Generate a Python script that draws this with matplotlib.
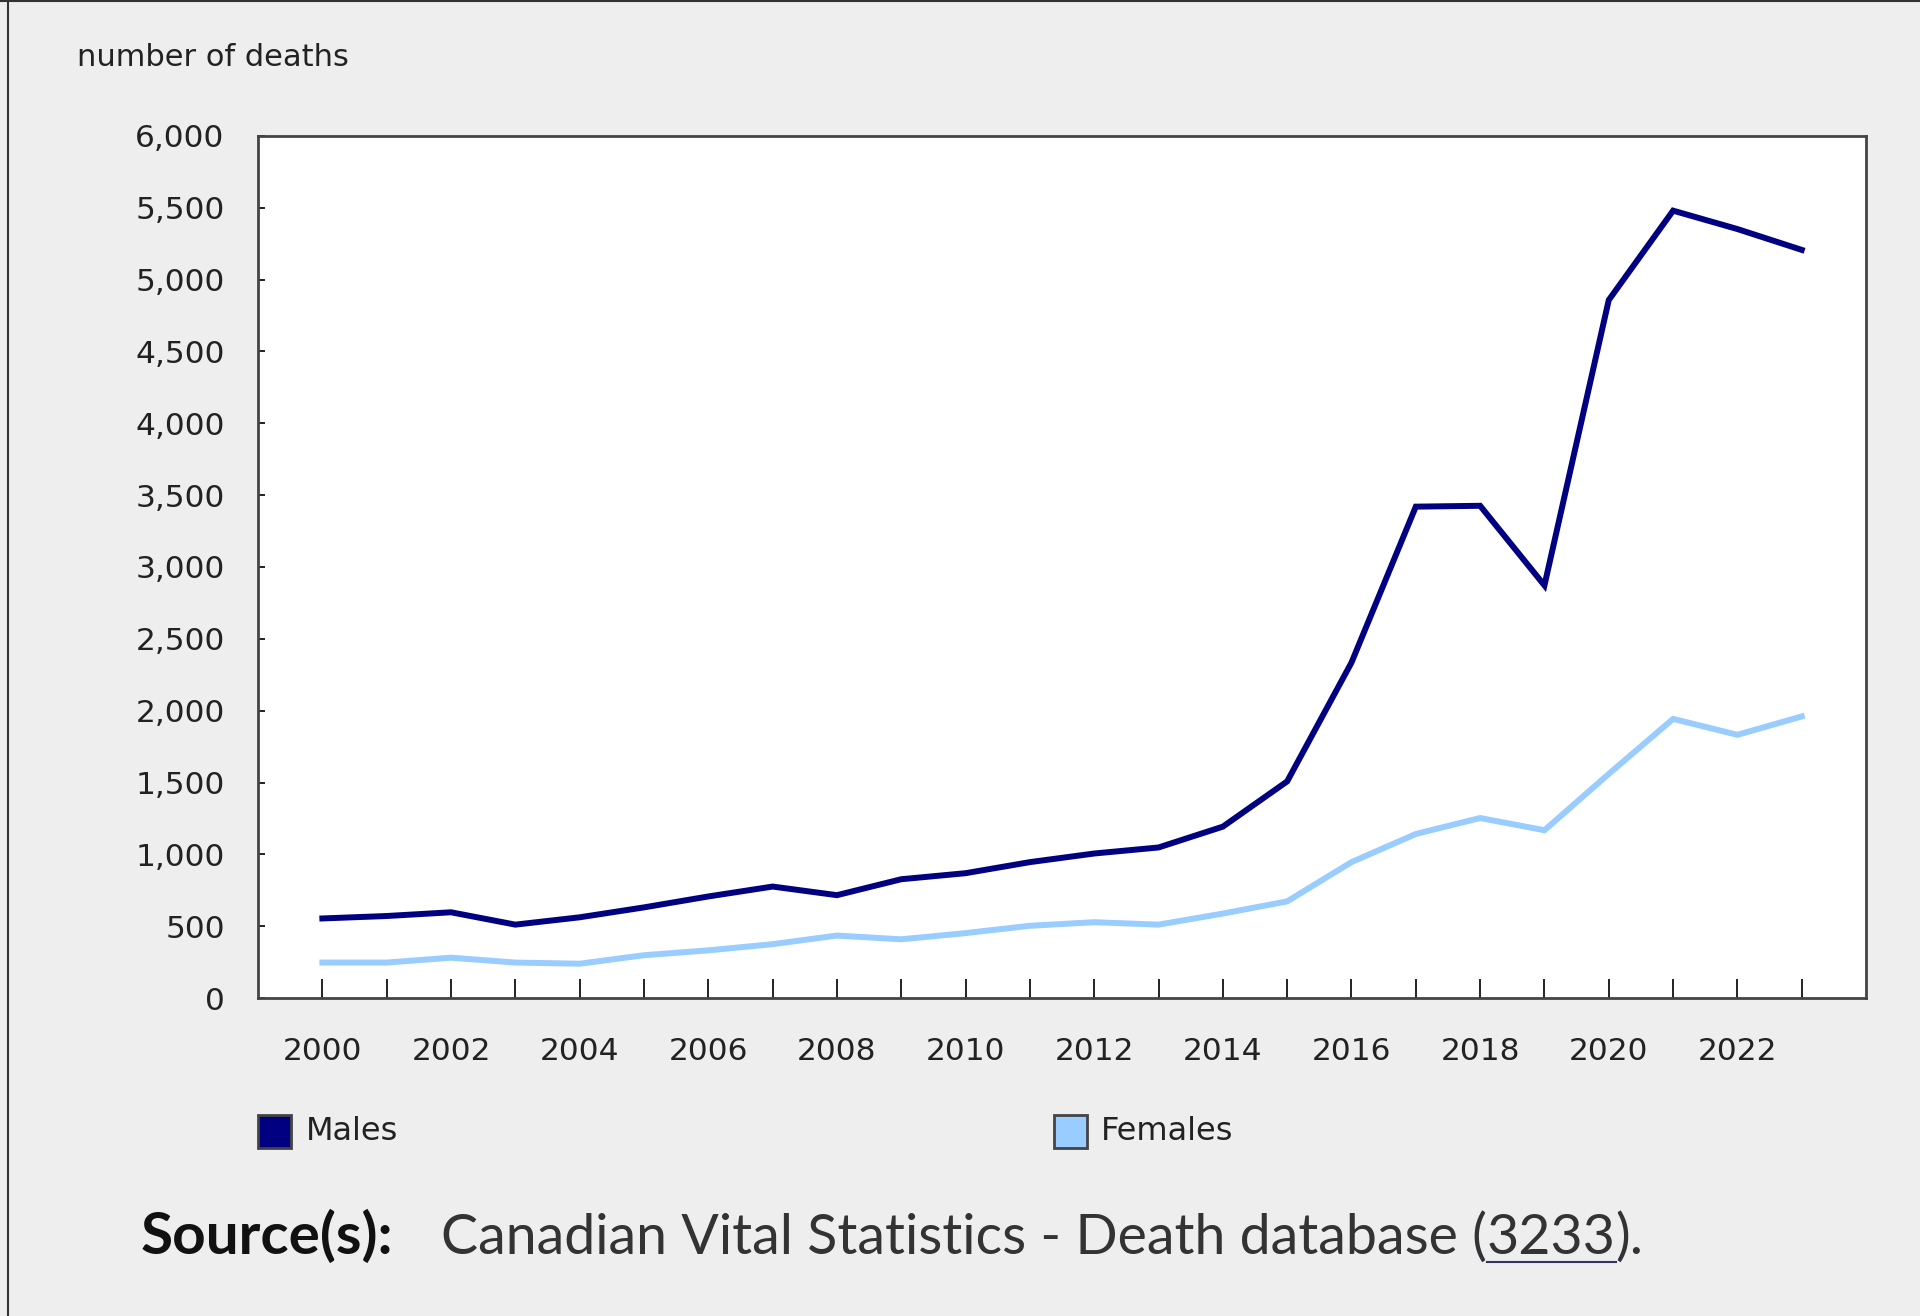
import numpy as np
import matplotlib
matplotlib.use("Agg")
import matplotlib.pyplot as plt
from matplotlib.patches import Rectangle
from matplotlib.lines import Line2D

# ── Data ──────────────────────────────────────────────────────────────────────
years = list(range(2000, 2024))
males = [554, 571, 597, 511, 562, 631, 707, 776, 716, 827, 869, 946,
         1006, 1048, 1193, 1508, 2335, 3420, 3426, 2872, 4858, 5480, 5352, 5207]
females = [247, 247, 281, 247, 239, 298, 332, 375, 435, 409, 452, 503,
           528, 511, 588, 673, 946, 1142, 1253, 1168, 1560, 1943, 1832, 1960]
series_names = ["Males", "Females"]
y_ticks = list(range(0, 6001, 500))

MALE_C = "#000080"
FEMALE_C = "#99ccff"
BG = "#eeeeee"

# ── Plot ──────────────────────────────────────────────────────────────────────
fig = plt.figure(figsize=(19.2, 13.16), dpi=100, facecolor=BG)
ax = fig.add_axes([0.1344, 0.2416, 0.8375, 0.6551])
ax.set_facecolor("white")

ax.plot(years, males, color=MALE_C, lw=4.3, solid_joinstyle="miter", zorder=3)
ax.plot(years, females, color=FEMALE_C, lw=4.3, solid_joinstyle="miter", zorder=3)

ax.set_xlim(1999, 2024)
ax.set_ylim(0, 6000)
ax.set_yticks(y_ticks)
ax.set_yticklabels([f"{v:,}" for v in y_ticks])
ax.set_xticks(years)
ax.set_xticklabels([str(y) if y % 2 == 0 else "" for y in years])

ax.tick_params(axis="x", direction="in", length=14, width=1.4, pad=28,
               labelsize=22.5, colors="#222222")
ax.tick_params(axis="y", direction="in", length=5, width=1.4, pad=24,
               labelsize=22.5, colors="#222222")
for s in ax.spines.values():
    s.set_color("#444444")
    s.set_linewidth(2)

fig.text(0.040, 0.956, "number of deaths", fontsize=22, color="#222222",
         ha="left", va="center")

# legend
for i, (name, col) in enumerate(zip(series_names, [MALE_C, FEMALE_C])):
    x0 = [0.1346, 0.5491][i]
    fig.add_artist(Rectangle((x0, 0.1275), 0.0172, 0.0255, transform=fig.transFigure,
                             facecolor=col, edgecolor="#444444", lw=2))
    fig.text(x0 + 0.0245, 0.1400, name, fontsize=23, color="#222222",
             ha="left", va="center")

# source line
fig.canvas.draw()
r = fig.canvas.get_renderer()
yb = 0.0470
fig.text(0.0734, yb, "Source(s):", fontsize=42, fontweight="bold", color="#111111",
         family="Lato", ha="left", va="baseline")
x = 0.2296
pieces = [("Canadian Vital Statistics - Death database (", False),
          ("3233", True),
          (").", False)]
for txt, ul in pieces:
    t = fig.text(x, yb, txt, fontsize=40, color="#333333",
                 family="Lato", ha="left", va="baseline")
    bb = t.get_window_extent(renderer=r)
    w = bb.width / fig.bbox.width
    if ul:
        fig.add_artist(Line2D([x, x + w], [yb - 0.006, yb - 0.006],
                              transform=fig.transFigure, color="#333366", lw=1.5))
    x += w

# outer border (left and top)
fig.add_artist(Line2D([0.004, 0.004], [0, 1], transform=fig.transFigure,
                      color="#333333", lw=1.5))
fig.add_artist(Line2D([0, 1], [0.999, 0.999], transform=fig.transFigure,
                      color="#333333", lw=1.5))

fig.savefig("out.png", dpi=100, facecolor=BG)
plt.close()
